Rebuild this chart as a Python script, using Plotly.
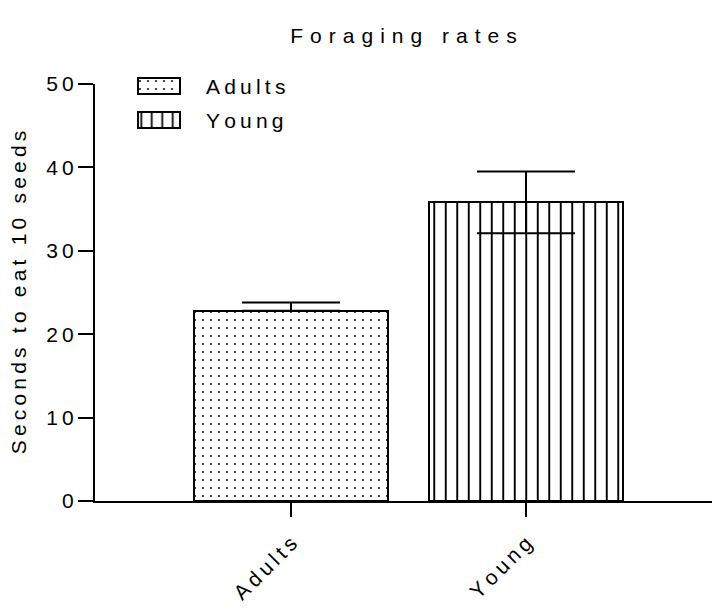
import plotly.graph_objects as go

# Foraging data: mean seconds to eat 10 seeds, with error bars
groups = ["Adults", "Young"]
mean_seconds = [22.8, 35.8]
err_plus = [1.0, 3.7]
err_minus = [0.0, 3.7]
patterns = [".", "|"]
y_ticks = [0, 10, 20, 30, 40, 50]

title_text = "Foraging rates"
y_title_text = "Seconds to eat 10 seeds"

FONT = "Liberation Sans, Arial, Helvetica, sans-serif"
FS = 21


def tracked(s, gap="\u2009"):
    """Spread the letters of a label apart (wide tracking)."""
    return gap.join(s)


W, H = 712, 612
ML, MR, MT, MB = 95, 0, 60, 111
plot_h = H - MT - MB          # 441 px
axis_top_px = 84              # where y = 50 sits
y_dom_top = (H - MB - axis_top_px) / plot_h


def py_to_paper(py):
    return (H - MB - py) / plot_h


def px_to_paper(px):
    return (px - ML) / (W - ML - MR)


fig = go.Figure()

pattern_sizes = {".": 8, "|": 11.5}
pattern_solid = {".": 0.045, "|": 0.17}

for g, m, ep, em, pat in zip(groups, mean_seconds, err_plus, err_minus, patterns):
    fig.add_trace(go.Bar(
        x=[g], y=[m],
        width=0.825,
        marker=dict(
            color="white",
            line=dict(color="black", width=2),
            pattern=dict(shape=pat, fgcolor="black", bgcolor="white",
                         size=pattern_sizes[pat], solidity=pattern_solid[pat],
                         fillmode="replace"),
        ),
        error_y=dict(type="data", symmetric=False, array=[ep], arrayminus=[em],
                     color="black", thickness=2, width=49),
        showlegend=False,
        xaxis="x", yaxis="y",
    ))

# Legend swatches drawn as horizontal bars on a small helper subplot
legend_rows = {"Adults": 1, "Young": 0}
for g, pat in zip(groups, patterns):
    fig.add_trace(go.Bar(
        x=[1], y=[legend_rows[g]], base=0, orientation="h",
        width=0.47,
        marker=dict(
            color="white",
            line=dict(color="black", width=2),
            pattern=dict(shape=pat, fgcolor="black", bgcolor="white",
                         size=8 if pat == "." else 10.5,
                         solidity=pattern_solid[pat], fillmode="replace"),
        ),
        showlegend=False, hoverinfo="skip",
        xaxis="x2", yaxis="y2",
    ))
    fig.add_annotation(
        x=px_to_paper(204), xref="paper", xanchor="left",
        y=legend_rows[g], yref="y2", yanchor="middle",
        text=tracked(g), showarrow=False,
        font=dict(family=FONT, size=FS, color="black"),
    )

fig.update_layout(
    width=W, height=H,
    margin=dict(l=ML, r=MR, t=MT, b=MB, pad=0),
    paper_bgcolor="white", plot_bgcolor="white",
    font=dict(family=FONT, size=FS, color="black"),
    title=dict(text=tracked(title_text, "\u2004"), x=0.5, xref="paper", xanchor="center",
               y=1 - 36 / H, yref="container", yanchor="middle",
               font=dict(family=FONT, size=21, color="black")),
    bargap=0,
    xaxis=dict(
        type="category", range=[-0.834, 1.7915], domain=[0, 1],
        tickvals=groups, ticktext=[tracked(g) for g in groups],
        tickangle=-45, ticks="outside", ticklen=14, tickwidth=2, tickcolor="black",
        ticklabelstandoff=6,
        showline=True, linewidth=2, linecolor="black",
        showgrid=False, zeroline=False, anchor="y",
        tickfont=dict(family=FONT, size=FS, color="black"),
    ),
    yaxis=dict(
        range=[0, 50], domain=[0, y_dom_top],
        tickvals=y_ticks, ticktext=[tracked(str(v)) for v in y_ticks],
        ticks="outside", ticklen=15, tickwidth=2, tickcolor="black",
        showline=True, linewidth=2, linecolor="black",
        showgrid=False, zeroline=False, anchor="x",
        title=dict(text=tracked(y_title_text), standoff=14,
                   font=dict(family=FONT, size=FS, color="black")),
        tickfont=dict(family=FONT, size=FS, color="black"),
    ),
    xaxis2=dict(
        domain=[px_to_paper(136), px_to_paper(182)],
        range=[-0.0476, 1.0476], visible=False, fixedrange=True, anchor="y2",
    ),
    yaxis2=dict(
        domain=[py_to_paper(137), py_to_paper(69)],
        range=[-0.5, 1.5], visible=False, fixedrange=True, anchor="x2",
    ),
)

fig.write_html("out.html")
